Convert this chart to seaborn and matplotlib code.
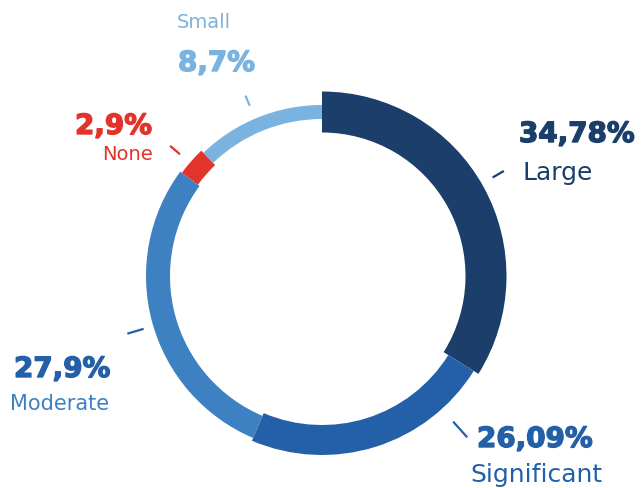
import matplotlib
matplotlib.use("Agg")
import matplotlib.pyplot as plt
import matplotlib.patheffects as pe
import numpy as np
import seaborn as sns

# --- data ------------------------------------------------------------------
categories = ["Large", "Significant", "Moderate", "None", "Small"]
pct_labels = ["34,78%", "26,09%", "27,9%", "2,9%", "8,7%"]
# arc shares as drawn in the picture (degrees of the ring / 360)
arc_share = [33.9, 22.5, 28.7, 2.7, 12.2]

ring_colors = ["#1b3f6a", "#2360a8", "#3d81c2", "#e3342c", "#7ab3e0"]
ring_widths = [41, 30, 24, 20, 14]           # px, each segment its own thickness
pct_colors = ["#1b3f6a", "#2360a8", "#2360a8", "#e3342c", "#7ab3e0"]
name_colors = ["#1b3f6a", "#2360a8", "#3d81c2", "#e3342c", "#7ab3e0"]

# --- layout (pixels, origin top-left) --------------------------------------
W, H = 644, 489
CX, CY = 322, 277
R_MID = 164

# (x, baseline y, ha, size) for percentage and for name
pct_pos = [(519, 143, "left", 20), (477, 448, "left", 20), (14, 378, "left", 20),
           (152, 135, "right", 20), (178, 72, "left", 20)]
name_pos = [(523, 180, "left", 18), (470, 482, "left", 18), (10, 410, "left", 15),
            (153, 160, "right", 14), (177, 28, "left", 14)]
# leader ticks: angle (deg), inner r, outer r
ticks = [(30, 197, 210), (-48, 196, 217), (196.5, 186, 203),
         (139.4, 187, 200), (113, 185, 196)]

sns.set_theme(style="white")
plt.rcParams["font.family"] = ["DejaVu Sans"]

fig = plt.figure(figsize=(W / 100, H / 100), dpi=100)
ax = fig.add_axes([0, 0, 1, 1])

wedges, _ = ax.pie(
    arc_share,
    colors=ring_colors,
    startangle=90,
    counterclock=False,
    center=(CX, H - CY),
    radius=R_MID,
    wedgeprops=dict(linewidth=0),
)
for wdg, w in zip(wedges, ring_widths):
    wdg.set_radius(R_MID + w / 2)
    wdg.set_width(w)

for (ang, r1, r2), col in zip(ticks, pct_colors):
    t = np.deg2rad(ang)
    ax.plot([CX + r1 * np.cos(t), CX + r2 * np.cos(t)],
            [H - CY + r1 * np.sin(t), H - CY + r2 * np.sin(t)],
            color=col, lw=1.6, solid_capstyle="butt")

for i in range(len(categories)):
    x, y, ha, fs = pct_pos[i]
    ax.text(x, H - y, pct_labels[i], ha=ha, va="baseline", fontsize=fs,
            fontweight="bold", color=pct_colors[i],
            path_effects=[pe.withStroke(linewidth=1.0, foreground=pct_colors[i])])
    x, y, ha, fs = name_pos[i]
    ax.text(x, H - y, categories[i], ha=ha, va="baseline", fontsize=fs,
            color=name_colors[i])

ax.set_xlim(0, W)
ax.set_ylim(0, H)
ax.set_aspect("equal")
ax.axis("off")

fig.savefig("out.png", dpi=100, facecolor="white")
